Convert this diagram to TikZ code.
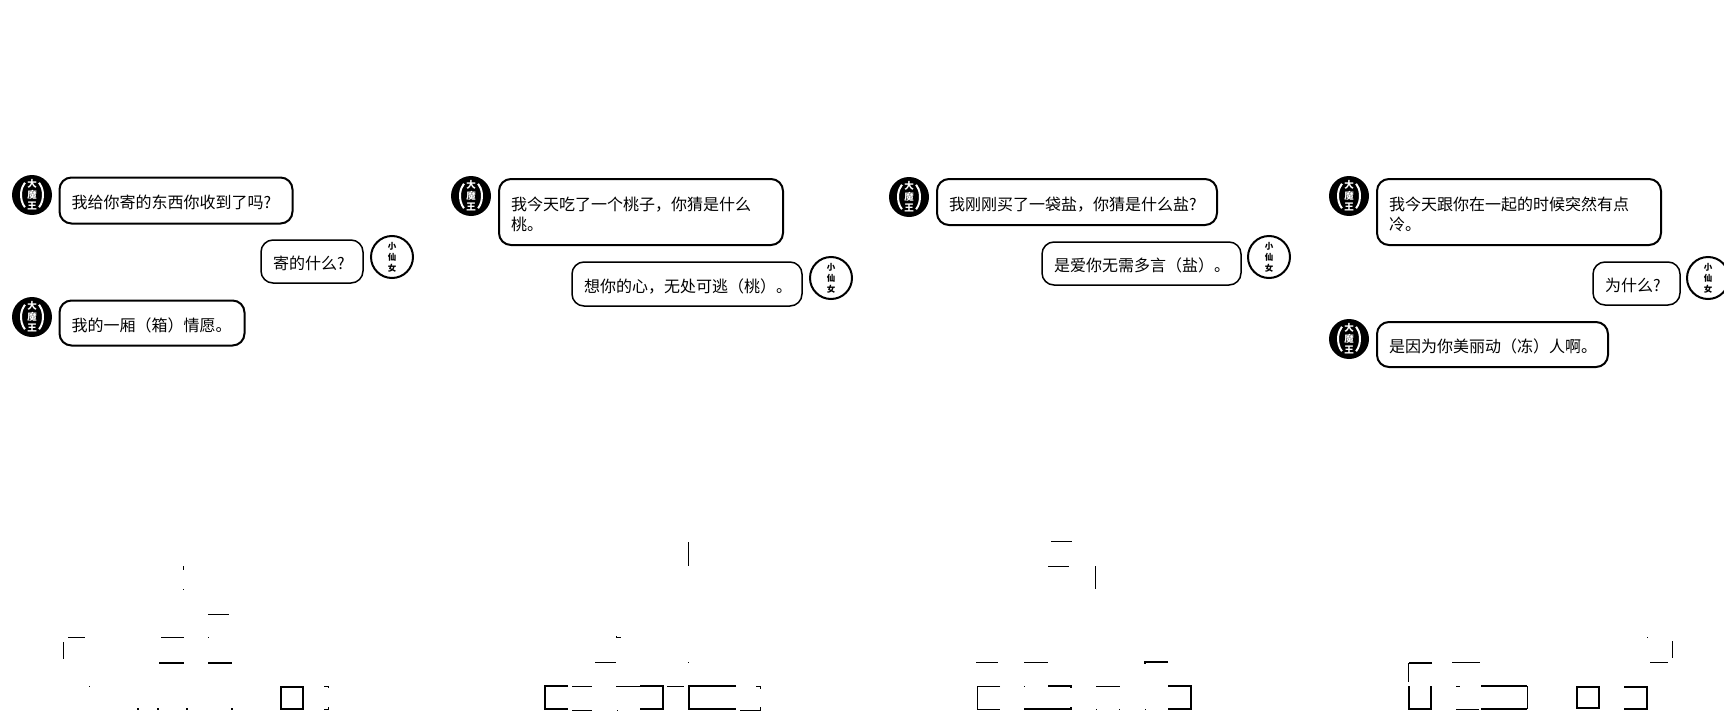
\documentclass[tikz,border=0pt]{standalone}
\usepackage{fontspec}
\setmainfont{Noto Sans CJK SC}
\newcommand\fwcomma{\symbol{"FF0C}}
\newcommand\fwopen{\symbol{"FF08}}
\newcommand\fwclose{\symbol{"FF09}}
\tikzset{
  bubblemain/.style={draw, line width=2pt, rounded corners=12pt, rectangle, inner xsep=12pt, inner ysep=0pt, outer sep=0pt, align=left, font=\fontsize{16}{20}\selectfont, execute at begin node={\rule{0pt}{18pt}}},
  bubblereply/.style={bubblemain, line width=1.5pt},
  bigavatar/.style={circle, fill=black, text=white, minimum size=40pt, inner sep=0pt, align=center, font=\fontsize{9.5}{11}\selectfont\bfseries,
    path picture={\draw[white, line width=2pt] (path picture bounding box.center) +(130:11 and 16) arc[start angle=130, end angle=230, x radius=11, y radius=16];
      \draw[white, line width=2pt] (path picture bounding box.center) +(50:11 and 16) arc[start angle=50, end angle=-50, x radius=11, y radius=16];}},
  smallavatar/.style={circle, draw, line width=2pt, minimum size=42pt, inner sep=0pt, align=center, font=\fontsize{8.5}{11}\selectfont\bfseries},
  frag/.style={line width=1pt},
  fragthick/.style={line width=2.2pt},
}
\begin{document}
\begin{tikzpicture}[x=1pt,y=-1pt]
    \useasboundingbox (0,0) rectangle (1724,725);
    \clip (0,0) rectangle (1724,725);

    % Chat 1
    \node[bigavatar] (avatarA) at (32,195) {大\\魔\\王};
    \node[bubblemain, text width=209pt, minimum height=46pt] (askA) at (176,200.5) {我给你寄的东西你收到了吗?};
    \node[bubblereply, text width=78pt, minimum height=43pt] (replyA) at (312,261.5) {寄的什么?};
    \node[smallavatar] (girlA) at (392,257) {小\\仙\\女};
    \node[bigavatar] (avatarAb) at (32,317) {大\\魔\\王};
    \node[bubblemain, text width=161pt, minimum height=45pt] (answerA) at (152,323) {我的一厢\fwopen 箱\fwclose 情愿。};

    % Chat 2
    \node[bigavatar] (avatarB) at (471,196) {大\\魔\\王};
    \node[bubblemain, text width=260pt, minimum height=66pt] (askB) at (641,212) {我今天吃了一个桃子\fwcomma 你猜是什么\\桃。};
    \node[bubblereply, text width=206pt, minimum height=44pt] (replyB) at (687,284) {想你的心\fwcomma 无处可逃\fwopen 桃\fwclose 。};
    \node[smallavatar] (girlB) at (831,278) {小\\仙\\女};

    % Chat 3
    \node[bigavatar] (avatarC) at (909,197) {大\\魔\\王};
    \node[bubblemain, text width=256pt, minimum height=46pt] (askC) at (1077,202) {我刚刚买了一袋盐\fwcomma 你猜是什么盐?};
    \node[bubblereply, text width=175pt, minimum height=43pt] (replyC) at (1141.5,263.5) {是爱你无需多言\fwopen 盐\fwclose 。};
    \node[smallavatar] (girlC) at (1269,257) {小\\仙\\女};

    % Chat 4
    \node[bigavatar] (avatarD) at (1349,196) {大\\魔\\王};
    \node[bubblemain, text width=260pt, minimum height=66pt] (askD) at (1519,212) {我今天跟你在一起的时候突然有点\\冷。};
    \node[bubblereply, text width=63pt, minimum height=43pt] (replyD) at (1636.5,283.5) {为什么?};
    \node[smallavatar] (girlD) at (1708,278) {小\\仙\\女};
    \node[bigavatar] (avatarDb) at (1349,339) {大\\魔\\王};
    \node[bubblemain, text width=207pt, minimum height=45pt] (answerD) at (1492.5,344.5) {是因为你美丽动\fwopen 冻\fwclose 人啊。};

    % Leftover strokes, row 1
    \draw[frag] (183,566) -- (183,570);
    \draw[frag] (183,589) -- (183.5,589);
    \draw[frag] (208,614) -- (229,614);
    \draw[frag] (68,637) -- (85,637);
    \draw[frag] (161,637) -- (184,637);
    \draw[frag] (208,637) -- (209,637);
    \draw[frag] (63.5,642) -- (63.5,659);
    \draw[fragthick] (159,663) -- (184,663);
    \draw[fragthick] (208,663) -- (232,663);
    \draw[frag] (89,686) -- (90,686);
    \foreach \px in {137,157,186,231} \draw[fragthick] (\px,709) -- (\px+1.5,709);
    \draw[line width=2.6pt] (281,687) rectangle (303,709);
    \draw[frag] (324,686) -- (328,686) -- (328,688);
    \draw[frag] (324,709) -- (328,709) -- (328,707);

    % Leftover strokes, row 2
    \draw[frag] (688,542) -- (688,566);
    \draw[frag] (616,636) -- (616,637) -- (621,637);
    \draw[frag] (595,662) -- (616,662);
    \draw[frag] (688,662) -- (689,662);
    \draw[fragthick] (568,686) -- (545,686) -- (545,709) -- (568,709);
    \draw[frag] (572,686) -- (592,686);
    \draw[frag] (572,710) -- (592,710);
    \draw[frag] (616,686) -- (640,686);
    \draw[frag] (617,710) -- (618,710);
    \draw[fragthick] (640,686) -- (663,686) -- (663,709) -- (640,709);
    \draw[frag] (667,686) -- (684,686);
    \draw[fragthick] (736,686) -- (689,686) -- (689,709) -- (736,709);
    \draw[frag] (740,710) -- (760,710) -- (760,707);
    \draw[frag] (756,686) -- (760,686) -- (760,689);

    % Leftover strokes, row 3
    \draw[frag] (1051,541) -- (1072,541);
    \draw[frag] (1048,566) -- (1069,566);
    \draw[frag] (1095,566) -- (1095,589);
    \draw[frag] (976,662) -- (998,662);
    \draw[frag] (1024,662) -- (1048,662);
    \draw[fragthick] (1168,662) -- (1145,662) -- (1145,664);
    \draw[frag] (1000,686) -- (977,686) -- (977,709) -- (1000,709);
    \draw[frag] (1024,686) -- (1025,686);
    \draw[fragthick] (1024,709) -- (1071,709) -- (1071,707);
    \draw[fragthick] (1048,686) -- (1071,686) -- (1071,688);
    \draw[frag] (1096,686) -- (1120,686);
    \foreach \px in {1096,1119,1145} \draw[frag] (\px,709) -- (\px+1,709);
    \draw[fragthick] (1168,686) -- (1191,686) -- (1191,709) -- (1168,709);

    % Leftover strokes, row 4
    \draw[frag] (1647,637) -- (1648,637);
    \draw[frag] (1672,641) -- (1672,658);
    \draw[frag] (1650,662) -- (1668,662);
    \draw[fragthick] (1432,663) -- (1409,663);
    \draw[frag] (1408.5,663) -- (1408.5,682);
    \draw[frag] (1452,662) -- (1480,662);
    \draw[fragthick] (1409,686) -- (1409,709) -- (1431,709) -- (1431,686);
    \draw[frag] (1456,686) -- (1460,686);
    \draw[frag] (1456,709) -- (1479,709);
    \draw[fragthick] (1481,686) -- (1527,686);
    \draw[fragthick] (1481,709) -- (1527,709);
    \draw[frag] (1527,686) -- (1527,709);
    \draw[line width=2.6pt] (1577,687) rectangle (1599,708);
    \draw[fragthick] (1624,687) -- (1647,687) -- (1647,709) -- (1624,709);
\end{tikzpicture}
\end{document}
